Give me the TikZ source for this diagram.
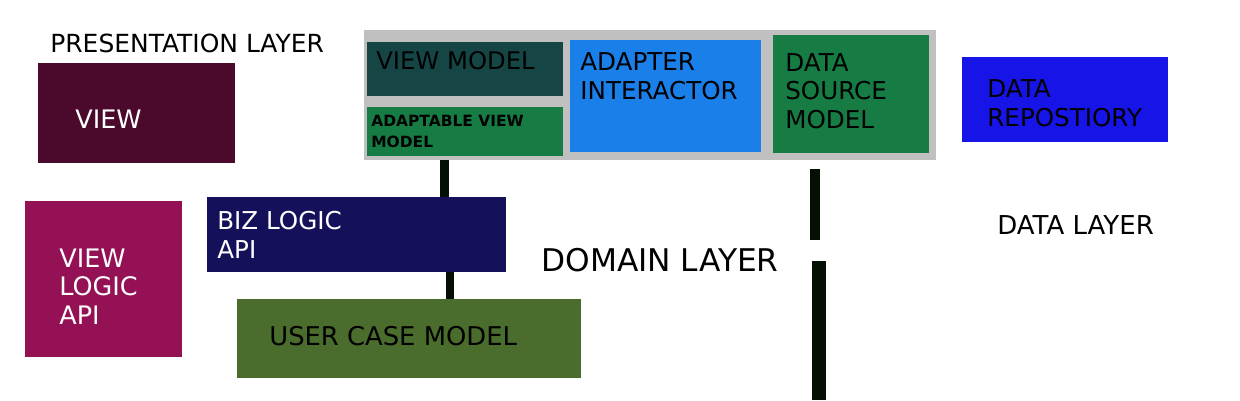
\documentclass[tikz,border=0pt]{standalone}
\usepackage{fontspec}
\setmainfont{DejaVu Sans}
\usepackage{tikz}
\usetikzlibrary{positioning}
\definecolor{panelgray}{HTML}{C0C0C0}
\definecolor{vmteal}{HTML}{154545}
\definecolor{modelgreen}{HTML}{167C43}
\definecolor{adapterblue}{HTML}{1A7FE8}
\definecolor{repoblue}{HTML}{1614E6}
\definecolor{viewplum}{HTML}{4B0A2C}
\definecolor{logicmag}{HTML}{941156}
\definecolor{biznavy}{HTML}{15105A}
\definecolor{caseolive}{HTML}{4A6C2C}
\definecolor{barink}{HTML}{051005}
\tikzset{
  block/.style={rectangle, draw=none, inner sep=0pt},
  txt/.style={inner sep=0pt, anchor=base west, align=left, font=\fontsize{14}{16}\selectfont},
  layertxt/.style={inner sep=0pt, anchor=base west, text=black},
  bar/.style={draw=barink, line width=0.17cm}
}

\begin{document}
\begin{tikzpicture}[x=0.02cm, y=-0.02cm]
  \useasboundingbox (0,0) rectangle (1240,400);
  % presentation layer
  \node[block, fill=panelgray, minimum width=11.44cm, minimum height=2.6cm] (panel) at (650,95) {};
  \node[block, fill=vmteal, minimum width=3.92cm, minimum height=1.08cm] (vm) at (465,69) {};
  \node[block, fill=modelgreen, minimum width=3.92cm, minimum height=0.98cm] (avm) at (465,131.5) {};
  \node[block, fill=adapterblue, minimum width=3.82cm, minimum height=2.24cm] (adapter) at (665.5,96) {};
  \node[block, fill=modelgreen, minimum width=3.12cm, minimum height=2.36cm] (dsm) at (851,94) {};
  \node[block, fill=repoblue, minimum width=4.12cm, minimum height=1.7cm] (repo) at (1065,99.5) {};
  \node[block, fill=viewplum, minimum width=3.94cm, minimum height=2.0cm] (view) at (136.5,113) {};
  \node[block, fill=logicmag, minimum width=3.14cm, minimum height=3.12cm] (vlapi) at (103.5,279) {};
  \node[block, fill=biznavy, minimum width=5.98cm, minimum height=1.5cm] (biz) at (356.5,234.5) {};
  \node[block, fill=caseolive, minimum width=6.88cm, minimum height=1.58cm] (ucm) at (409,338.5) {};

  % multi-line labels sit on their last baseline
  \node[txt, font=\fontsize{13.8}{16}\selectfont] (vmtxt) at (376,69.5) {VIEW MODEL};
  \node[txt, font=\bfseries\fontsize{8.8}{11.5}\selectfont] (avmtxt) at (371,147) {ADAPTABLE VIEW\\MODEL};
  \node[txt] (adaptertxt) at (580,99) {ADAPTER\\INTERACTOR};
  \node[txt] (dsmtxt) at (785,128) {DATA\\SOURCE\\MODEL};
  \node[txt] (repotxt) at (987,126) {DATA\\REPOSTIORY};
  \node[txt, text=white, font=\fontsize{14.5}{16}\selectfont] (viewtxt) at (75,128) {VIEW};
  \node[txt, text=white, font=\fontsize{14.5}{16.2}\selectfont] (vlapitxt) at (59,324) {VIEW\\LOGIC\\API};
  \node[txt, text=white] (biztxt) at (217,258) {BIZ LOGIC\\API};
  \node[txt, font=\fontsize{14.7}{16}\selectfont] (ucmtxt) at (269,345) {USER CASE MODEL};

  \node[layertxt, font=\fontsize{14.2}{16}\selectfont] (preslayer) at (50,52) {PRESENTATION LAYER};
  \node[layertxt, font=\fontsize{17.8}{20}\selectfont] (domlayer) at (541,271) {DOMAIN LAYER};
  \node[layertxt, font=\fontsize{14.8}{17}\selectfont] (datalayer) at (997,234) {DATA LAYER};

  \coordinate (b1) at (444.5,0);
  \coordinate (b2) at (450,0);
  \draw[bar] (b1 |- panel.south) -- (b1 |- biz.north);
  \draw[bar] (b2 |- biz.south) -- (b2 |- ucm.north);

  \coordinate (s1top) at (815,169);
  \coordinate (s1bot) at (815,240);
  \coordinate (s2top) at (819,261);
  \coordinate (s2bot) at (819,400);
  \draw[bar, line width=0.2cm] (s1top) -- (s1bot);
  \draw[bar, line width=0.28cm] (s2top) -- (s2bot);
\end{tikzpicture}
\end{document}
